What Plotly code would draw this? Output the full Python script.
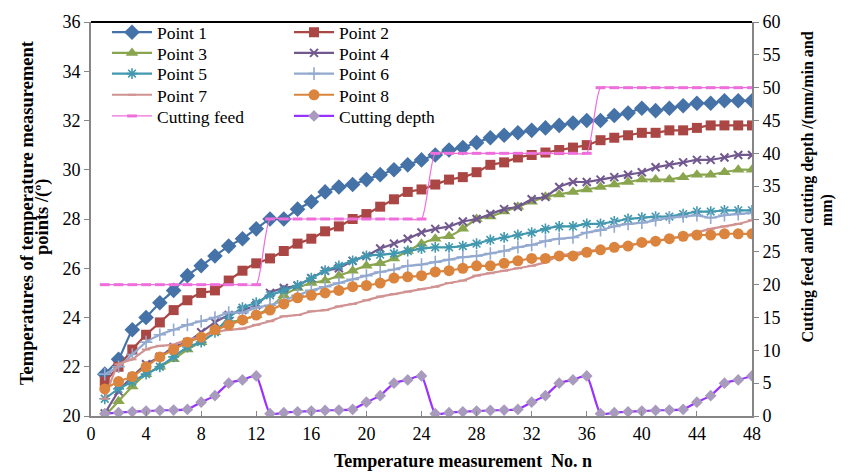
import plotly.graph_objects as go

n_idx = [1, 2, 3, 4, 5, 6, 7, 8, 9, 10, 11, 12, 13, 14, 15, 16, 17, 18, 19, 20, 21, 22, 23, 24,
         25, 26, 27, 28, 29, 30, 31, 32, 33, 34, 35, 36, 37, 38, 39, 40, 41, 42, 43, 44, 45, 46, 47, 48]

point1 = [21.7, 22.3, 23.5, 24.0, 24.6, 25.1, 25.7, 26.1, 26.5, 26.9, 27.2, 27.6, 28.0, 28.0, 28.4, 28.7,
          29.1, 29.3, 29.4, 29.6, 29.8, 30.0, 30.2, 30.4, 30.6, 30.8, 30.9, 31.1, 31.3, 31.4, 31.5, 31.6,
          31.7, 31.8, 31.9, 32.0, 32.0, 32.2, 32.3, 32.5, 32.4, 32.5, 32.6, 32.7, 32.7, 32.8, 32.8, 32.8]
point2 = [21.4, 22.0, 22.7, 23.3, 23.8, 24.3, 24.7, 25.0, 25.1, 25.5, 25.9, 26.2, 26.4, 26.7, 27.0, 27.2,
          27.5, 27.7, 28.0, 28.2, 28.5, 28.8, 29.1, 29.2, 29.4, 29.6, 29.7, 29.9, 30.2, 30.3, 30.5, 30.6,
          30.7, 30.8, 30.9, 31.0, 31.2, 31.3, 31.4, 31.5, 31.5, 31.6, 31.6, 31.7, 31.8, 31.8, 31.8, 31.8]
point3 = [20.0, 20.6, 21.2, 21.7, 22.0, 22.3, 22.7, 23.0, 23.4, 23.8, 23.9, 24.1, 24.4, 24.9, 25.2, 25.4,
          25.5, 25.7, 25.9, 26.1, 26.2, 26.4, 26.7, 27.0, 27.2, 27.3, 27.6, 28.0, 28.1, 28.3, 28.5, 28.7,
          28.9, 29.0, 29.1, 29.2, 29.3, 29.4, 29.5, 29.6, 29.6, 29.6, 29.7, 29.8, 29.8, 29.9, 30.0, 30.0]
point4 = [20.1, 21.0, 21.6, 22.1, 22.4, 22.8, 23.0, 23.4, 23.8, 24.1, 24.3, 24.5, 25.0, 25.2, 25.3, 25.6,
          25.9, 26.0, 26.3, 26.5, 26.8, 27.0, 27.2, 27.45, 27.6, 27.7, 27.9, 28.0, 28.2, 28.4, 28.5, 28.8,
          28.9, 29.3, 29.5, 29.5, 29.6, 29.7, 29.8, 29.9, 30.1, 30.2, 30.3, 30.4, 30.4, 30.5, 30.6, 30.6]
point5 = [20.7, 21.1, 21.4, 21.7, 22.0, 22.4, 22.8, 23.0, 23.4, 24.0, 24.4, 24.6, 24.9, 25.1, 25.3, 25.6,
          25.9, 26.1, 26.3, 26.5, 26.55, 26.6, 26.7, 26.8, 26.85, 26.85, 26.9, 27.0, 27.15, 27.25, 27.35, 27.45,
          27.6, 27.7, 27.7, 27.8, 27.8, 27.9, 28.0, 28.05, 28.1, 28.1, 28.2, 28.3, 28.3, 28.35, 28.35, 28.35]
point6 = [21.7, 22.0, 22.5, 23.0, 23.3, 23.5, 23.7, 23.85, 24.0, 24.2, 24.2, 24.4, 24.5, 24.7, 24.9, 25.1,
          25.25, 25.4, 25.55, 25.7, 25.85, 25.95, 26.1, 26.15, 26.25, 26.35, 26.45, 26.5, 26.6, 26.7, 26.85, 26.95,
          27.1, 27.2, 27.25, 27.45, 27.55, 27.7, 27.8, 27.85, 27.95, 28.05, 28.1, 28.15, 28.05, 28.15, 28.2, 28.25]
point7 = [20.7, 22.1, 22.3, 22.7, 22.85, 22.9, 23.1, 23.2, 23.4, 23.5, 23.55, 23.7, 23.85, 24.05, 24.1, 24.25,
          24.3, 24.45, 24.55, 24.7, 24.85, 24.95, 25.05, 25.15, 25.25, 25.4, 25.5, 25.7, 25.8, 25.9, 26.0, 26.1,
          26.25, 26.5, 26.6, 26.7, 26.75, 26.85, 26.95, 27.0, 27.1, 27.2, 27.3, 27.45, 27.6, 27.7, 27.8, 27.95]
point8 = [21.1, 21.4, 21.6, 22.0, 22.4, 22.7, 23.0, 23.2, 23.5, 23.7, 23.9, 24.1, 24.3, 24.55, 24.8, 24.9,
          25.0, 25.1, 25.25, 25.3, 25.4, 25.6, 25.65, 25.7, 25.85, 25.9, 26.0, 26.1, 26.1, 26.2, 26.3, 26.4,
          26.4, 26.5, 26.5, 26.65, 26.75, 26.85, 26.9, 27.05, 27.1, 27.2, 27.3, 27.35, 27.35, 27.4, 27.4, 27.4]
cutting_feed = [20, 20, 20, 20, 20, 20, 20, 20, 20, 20, 20, 20,
                30, 30, 30, 30, 30, 30, 30, 30, 30, 30, 30, 30,
                40, 40, 40, 40, 40, 40, 40, 40, 40, 40, 40, 40,
                50, 50, 50, 50, 50, 50, 50, 50, 50, 50, 50, 50]
cutting_depth = [0.35, 0.5, 0.65, 0.75, 0.85, 0.9, 1.0, 2.1, 3.1, 5.0, 5.5, 6.1,
                 0.35, 0.5, 0.65, 0.75, 0.85, 0.9, 1.0, 2.1, 3.1, 5.0, 5.5, 6.1,
                 0.35, 0.5, 0.65, 0.75, 0.85, 0.9, 1.0, 2.1, 3.1, 5.0, 5.5, 6.1,
                 0.35, 0.5, 0.65, 0.75, 0.85, 0.9, 1.0, 2.1, 3.1, 5.0, 5.5, 6.1]

FONT = "Liberation Serif"

series = [
    ("Point 1", point1, "#4572A7", dict(symbol="diamond", size=12)),
    ("Point 2", point2, "#AA4643", dict(symbol="square", size=10)),
    ("Point 3", point3, "#89A54E", dict(symbol="triangle-up", size=11)),
    ("Point 4", point4, "#71588F", dict(symbol="x-thin-open", size=8, line=dict(width=2, color="#71588F"))),
    ("Point 5", point5, "#4198AF", dict(symbol="asterisk-open", size=9, line=dict(width=1.6, color="#4198AF"))),
    ("Point 6", point6, "#93A9CF", dict(symbol="cross-thin-open", size=9, line=dict(width=1.6, color="#93A9CF"))),
    ("Point 7", point7, "#D19392", dict(symbol="line-ew-open", size=6, line=dict(width=2, color="#D19392"))),
    ("Point 8", point8, "#DB843D", dict(symbol="circle", size=11)),
]

fig = go.Figure()
legend_ids = []
k = 0
for name, vals, col, mk in series:
    k += 1
    lid = "legend" if k == 1 else f"legend{k}"
    legend_ids.append(lid)
    mk = dict(mk)
    mk.setdefault("color", col)
    fig.add_trace(go.Scatter(x=n_idx, y=vals, name=name, mode="lines+markers",
                             line=dict(color=col, width=2.2, shape="spline", smoothing=0.5),
                             marker=mk, legend=lid, yaxis="y"))

fig.add_trace(go.Scatter(x=n_idx, y=cutting_feed, name="Cutting feed", mode="lines+markers",
                         line=dict(color="#EE6EDC", width=1.2, shape="spline", smoothing=0.6),
                         marker=dict(symbol="line-ew-open", size=7, line=dict(width=3, color="#EE6EDC")),
                         legend="legend9", yaxis="y2"))
legend_ids.append("legend9")
fig.add_trace(go.Scatter(x=n_idx, y=cutting_depth, name="Cutting depth", mode="lines+markers",
                         line=dict(color="#9933FF", width=2.2, shape="spline", smoothing=0.5),
                         marker=dict(symbol="diamond", size=9, color="#A99BBD"),
                         legend="legend10", yaxis="y2"))
legend_ids.append("legend10")

L, R, T, B = 91, 752, 16, 416
W, H = 849, 473


def px(xp):
    return (xp - L) / (R - L)


def py(yp):
    return (B - yp) / (B - T)


axis_font = dict(family=FONT, size=18, color="black")

legends = {}
col_x = [107, 289]
row_y = [26.5, 47.5, 68.5, 90, 111.5]
for i, lid in enumerate(legend_ids):
    c = i % 2
    r = i // 2
    legends[lid] = dict(x=px(col_x[c]), y=py(row_y[r]), xanchor="left", yanchor="middle",
                        bgcolor="rgba(0,0,0,0)", font=dict(family=FONT, size=17.5, color="black"),
                        itemwidth=40, tracegroupgap=0)

fig.update_layout(
    width=W, height=H,
    font=dict(family=FONT, size=17, color="black"),
    margin=dict(l=L, r=W - R, t=T, b=H - B, pad=0),
    paper_bgcolor="white", plot_bgcolor="white",
    showlegend=True,
    xaxis=dict(range=[0, 48], tick0=0, dtick=4, showgrid=False, zeroline=False,
               showline=True, linecolor="#868686", linewidth=2,
               ticks="inside", ticklen=5, tickcolor="#868686", tickwidth=1,
               tickfont=axis_font),
    yaxis=dict(range=[20, 36], tick0=20, dtick=2, showgrid=False, zeroline=False,
               showline=True, linecolor="#868686", linewidth=2,
               ticks="outside", ticklen=5, tickcolor="#868686", tickwidth=1,
               tickfont=axis_font),
    yaxis2=dict(range=[0, 60], tick0=0, dtick=5, overlaying="y", side="right",
                showgrid=False, zeroline=False,
                showline=True, linecolor="#868686", linewidth=2,
                ticks="outside", ticklen=5, tickcolor="#868686", tickwidth=1,
                tickfont=axis_font),
    shapes=[dict(type="line", xref="paper", yref="paper", x0=0, x1=1, y0=1, y1=1,
                 line=dict(color="black", width=2))],
    annotations=[
        dict(text="<b>Temperature measurement  No. n</b>", xref="paper", yref="paper",
             x=px(463), y=py(462), showarrow=False, xanchor="center", yanchor="middle",
             font=dict(family=FONT, size=18, color="black")),
        dict(text="<b>Temperatures of temperature measurement</b>", xref="paper", yref="paper",
             x=px(27), y=py(210), textangle=-90, showarrow=False, xanchor="center", yanchor="middle",
             font=dict(family=FONT, size=18.5, color="black")),
        dict(text="<b>points /(º)</b>", xref="paper", yref="paper",
             x=px(42), y=py(214), textangle=-90, showarrow=False, xanchor="center", yanchor="middle",
             font=dict(family=FONT, size=18.5, color="black")),
        dict(text="<b>Cutting feed and cutting depth /(mm/min and</b>", xref="paper", yref="paper",
             x=px(808), y=py(184), textangle=-90, showarrow=False, xanchor="center", yanchor="middle",
             font=dict(family=FONT, size=16, color="black")),
        dict(text="<b>mm)</b>", xref="paper", yref="paper",
             x=px(827), y=py(207), textangle=-90, showarrow=False, xanchor="center", yanchor="middle",
             font=dict(family=FONT, size=16, color="black")),
    ],
    **legends,
)

fig.write_html("out.html")
